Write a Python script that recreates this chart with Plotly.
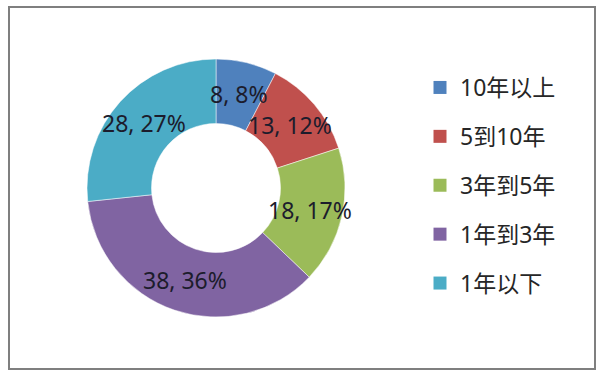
import math
import plotly.graph_objects as go

categories = ["10年以上", "5到10年", "3年到5年", "1年到3年", "1年以下"]
values = [8, 13, 18, 38, 28]
colors = ["#4F81BD", "#C0504D", "#9BBB59", "#8064A2", "#4BACC6"]

W, H = 600, 376
FONT = "Noto Sans, Noto Sans CJK SC, sans-serif"

cx, cy, R = 216, 188, 129

fig = go.Figure()
fig.add_trace(go.Pie(
    labels=categories, values=values, hole=0.5, sort=False,
    direction="clockwise", rotation=0,
    marker=dict(colors=colors, line=dict(color="white", width=0.5)),
    textinfo="none",
    domain=dict(x=[(cx - R) / W, (cx + R) / W], y=[1 - (cy + R) / H, 1 - (cy - R) / H]),
    showlegend=False, hoverinfo="label+value+percent",
))

# data labels at the middle of the ring, derived from the values
total = sum(values)
cum = 0
rl = 0.75 * R
for v in values:
    mid = (cum + v / 2) / total * 2 * math.pi
    cum += v
    px = cx + rl * math.sin(mid)
    py = cy - rl * math.cos(mid)
    fig.add_annotation(
        x=px / W, y=1 - py / H, xref="paper", yref="paper",
        text=f"{v}, {round(v / total * 100)}%", showarrow=False,
        xanchor="center", yanchor="middle",
        font=dict(family=FONT, size=23, color="#1c1c2c"),
    )

for name, col in zip(categories, colors):
    fig.add_trace(go.Scatter(
        x=[None], y=[None], mode="markers", name=name, legendgroup=name,
        marker=dict(symbol="square", size=13, color=col),
        showlegend=True,
    ))

fig.add_shape(type="rect", xref="paper", yref="paper",
              x0=9 / W, x1=595 / W, y0=1 - 369 / H, y1=1 - 7 / H,
              line=dict(color="#7f7f7f", width=2), layer="above")

fig.update_layout(
    width=W, height=H,
    margin=dict(l=0, r=0, t=0, b=0),
    paper_bgcolor="white", plot_bgcolor="white",
    xaxis=dict(visible=False), yaxis=dict(visible=False),
    legend=dict(
        x=420 / W, y=1 - 66 / H, xanchor="left", yanchor="top",
        font=dict(family=FONT, size=23, color="#262626"),
        tracegroupgap=16, itemwidth=30, bgcolor="rgba(0,0,0,0)",
    ),
)

fig.write_html("out.html")
